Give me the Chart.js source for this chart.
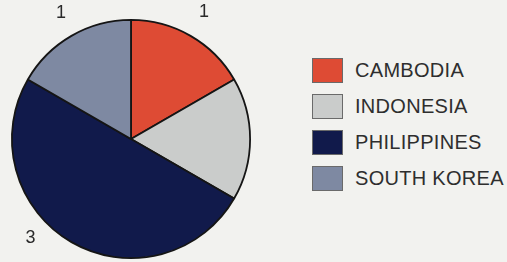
<!DOCTYPE html>
<html>
<head>
<meta charset="utf-8">
<script src="https://cdn.jsdelivr.net/npm/chart.js@4"></script>
<style>
  html, body { margin: 0; padding: 0; background: #f2f2ef; }
  #wrap { position: relative; width: 507px; height: 262px; overflow: hidden; }
  #chart { position: absolute; left: 0; top: 0; }
  #legend { position: absolute; left: 312px; top: 58px; font-family: "Liberation Sans", Arial, sans-serif; font-size: 20px; letter-spacing: 0.3px; color: #2e2e2e; }
  .row { display: flex; align-items: center; height: 25px; margin-bottom: 11px; white-space: nowrap; }
  .box { width: 29px; height: 23px; border: 1px solid #6a6a6a; margin-right: 12px; }
</style>
</head>
<body>
<div id="wrap"><canvas id="chart" width="262" height="262"></canvas><div id="legend"></div></div>
<script>
const countries = ["CAMBODIA", "INDONESIA", "PHILIPPINES", "SOUTH KOREA"]
const counts = [1, 1, 3, 1]
const sliceColors = ["#de4b34", "#cacccb", "#111a4b", "#7e89a2"]

// value labels sit just outside the pie, nudged a bit per slice like the print
const labelShift = [0, -0.036, 0.27, 0.017]
const labelDist = [27, 20, 22, 25]

const outsideLabels = {
    id: 'outsideLabels',
    afterDatasetsDraw(chart) {
        const ctx = chart.ctx
        const arcs = chart.getDatasetMeta(0).data
        ctx.save()
        ctx.font = '18px "Liberation Sans", Arial, sans-serif'
        ctx.fillStyle = '#2a2a2a'
        ctx.textAlign = 'center'
        ctx.textBaseline = 'middle'
        arcs.forEach((arc, i) => {
            const mid = (arc.startAngle + arc.endAngle) / 2 + labelShift[i]
            const r = arc.outerRadius + labelDist[i]
            ctx.fillText(String(counts[i]), arc.x + Math.cos(mid) * r, arc.y + Math.sin(mid) * r)
        })
        ctx.restore()
    }
}

new Chart(document.getElementById("chart"), {
    type: "pie",
    data: {
        labels: countries,
        datasets: [{
            data: counts,
            backgroundColor: sliceColors,
            borderColor: "#151515",
            borderWidth: 1.8
        }]
    },
    options: {
        responsive: false,
        animation: false,
        layout: { padding: { left: 11, top: 19, bottom: 3, right: 11 } },
        plugins: {
            tooltip: { enabled: false },
            legend: { display: false }
        }
    },
    plugins: [outsideLabels]
})

const legendHTML = countries.map((c, i) => `
    <div class="row"><div class="box" style="background:${sliceColors[i]}"></div>${c}</div>
`).join("")
document.getElementById("legend").innerHTML = legendHTML
</script>
</body>
</html>
